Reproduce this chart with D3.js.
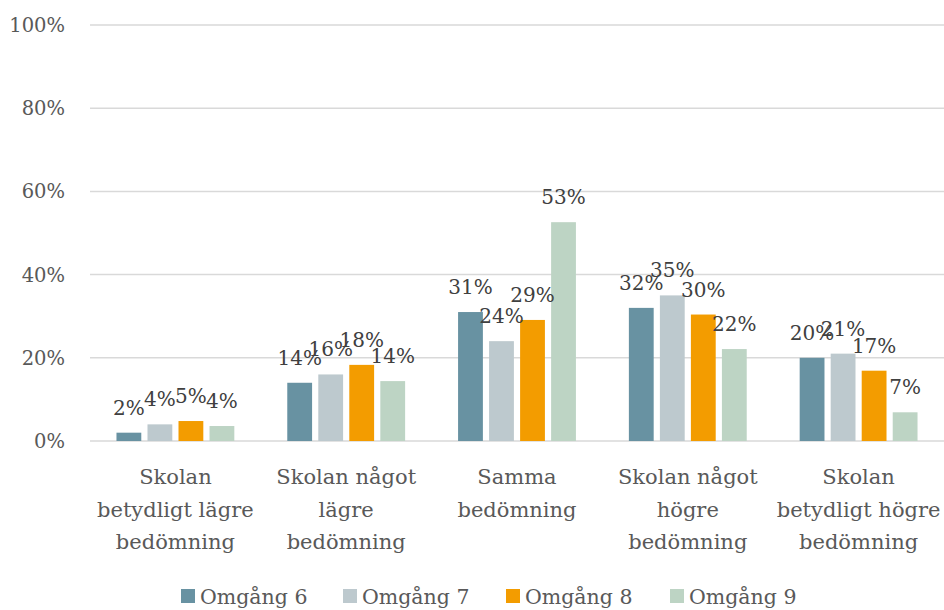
<!DOCTYPE html>
<html>
<head>
<meta charset="utf-8">
<script src="https://cdn.jsdelivr.net/npm/d3@7"></script>
<style>
  body { margin: 0; background: #fff; }
  text { font-family: "DejaVu Serif", serif; }
</style>
</head>
<body>
<svg id="chart" width="944" height="610"></svg>
<script>
// categories (label lines) and series
const categories = [
  ["Skolan", "betydligt lägre", "bedömning"],
  ["Skolan något", "lägre", "bedömning"],
  ["Samma", "bedömning"],
  ["Skolan något", "högre", "bedömning"],
  ["Skolan", "betydligt högre", "bedömning"]
];
const seriesNames = ["Omgång 6", "Omgång 7", "Omgång 8", "Omgång 9"];
const omgang6 = [0.02, 0.14, 0.31, 0.32, 0.20];
const omgang7 = [0.04, 0.16, 0.24, 0.35, 0.21];
const omgang8 = [0.048, 0.183, 0.291, 0.304, 0.169];
const omgang9 = [0.036, 0.144, 0.526, 0.221, 0.069];
const yTicks = [0, 0.2, 0.4, 0.6, 0.8, 1.0];
const colors = ["#6892a2", "#bdc9ce", "#f39c00", "#bdd4c4"];

const series = [omgang6, omgang7, omgang8, omgang9];

const svg = d3.select("#chart");
const margin = {left: 90, right: 0, top: 25, bottom: 169};
const width = 944, height = 610;

const y = d3.scaleLinear().domain([0, 1]).range([height - margin.bottom, margin.top]);
const x0 = d3.scaleBand().domain(d3.range(categories.length))
  .range([margin.left, width - margin.right]).paddingInner(0.31).paddingOuter(0.155);
const x1 = d3.scaleBand().domain(d3.range(series.length))
  .range([0, x0.bandwidth()]).paddingInner(0.2).paddingOuter(0);

// gridlines
svg.append("g").selectAll("line").data(yTicks).join("line")
  .attr("x1", margin.left).attr("x2", width - margin.right)
  .attr("y1", d => y(d)).attr("y2", d => y(d))
  .attr("stroke", "#d9d9d9").attr("stroke-width", 1.5);

// y labels
svg.append("g").selectAll("text").data(yTicks).join("text")
  .attr("x", 65).attr("y", d => y(d) + 7)
  .attr("text-anchor", "end")
  .attr("fill", "#595959").attr("font-size", 19.5)
  .text(d => d3.format(".0%")(d));

// bars
const groups = svg.append("g").selectAll("g").data(series).join("g")
  .attr("fill", (d, i) => colors[i]);

groups.each(function(vals, si) {
  const g = d3.select(this);
  g.selectAll("rect").data(vals).join("rect")
    .attr("x", (d, ci) => x0(ci) + x1(si))
    .attr("width", x1.bandwidth())
    .attr("y", d => y(d))
    .attr("height", d => y(0) - y(d));
});

// data labels
const labelG = svg.append("g");
series.forEach((vals, si) => {
  labelG.selectAll(null).data(vals).join("text")
    .attr("x", (d, ci) => x0(ci) + x1(si) + x1.bandwidth() / 2)
    .attr("y", d => y(d) - 18)
    .attr("text-anchor", "middle")
    .attr("fill", "#404040").attr("font-size", 20)
    .text(d => Math.round(d * 100) + "%");
});

// category labels
const catG = svg.append("g").selectAll("text").data(categories).join("text")
  .attr("text-anchor", "middle")
  .attr("fill", "#595959").attr("font-size", 21);
catG.selectAll("tspan").data((d, i) => d.map(t => ({t, i}))).join("tspan")
  .attr("x", d => x0(d.i) + x0.bandwidth() / 2)
  .attr("y", (d, j) => 484 + j * 32.5)
  .text(d => d.t);

// legend
const legX = [181, 343, 506, 670];
const leg = svg.append("g").selectAll("g").data(seriesNames).join("g")
  .attr("transform", (d, i) => `translate(${legX[i]},589)`);
leg.append("rect").attr("width", 14).attr("height", 14)
  .attr("fill", (d, i) => colors[i]);
leg.append("text").attr("x", 19).attr("y", 15)
  .attr("fill", "#595959").attr("font-size", 20.5)
  .text(d => d);
</script>
</body>
</html>
